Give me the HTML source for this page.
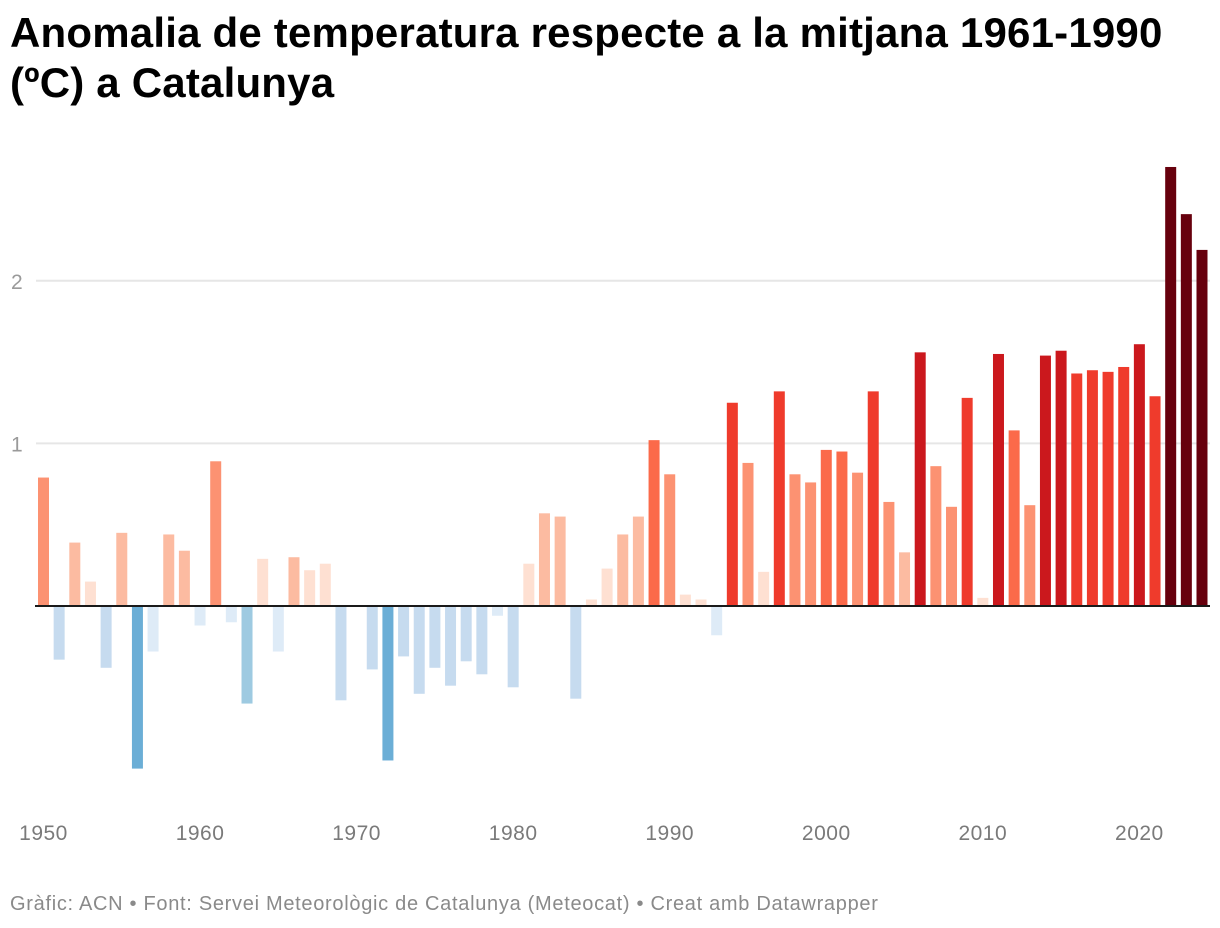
<!DOCTYPE html>
<html><head><meta charset="utf-8"><style>
body{margin:0;width:1220px;height:928px;background:#fff;font-family:"Liberation Sans",sans-serif;overflow:hidden}
h1{position:absolute;left:10px;top:8px;margin:0;font-size:42px;line-height:50px;font-weight:bold;color:#000;letter-spacing:0.2px}
#foot{position:absolute;left:10px;top:893px;font-size:20px;color:#8a8a8a;letter-spacing:0.7px}
svg{position:absolute;left:0;top:0}
</style></head><body>
<h1>Anomalia de temperatura respecte a la mitjana 1961-1990<br>(ºC) a Catalunya</h1>
<svg id="chart" width="1220" height="928"></svg>
<div id="foot">Gràfic: ACN • Font: Servei Meteorològic de Catalunya (Meteocat) • Creat amb Datawrapper</div>
<script>
const years=[];for(let y=1950;y<=2024;y++)years.push(y);
const values=[0.79,-0.33,0.39,0.15,-0.38,0.45,-1.0,-0.28,0.44,0.34,-0.12,0.89,-0.10,-0.60,0.29,-0.28,0.30,0.22,0.26,-0.58,0.0,-0.39,-0.95,-0.31,-0.54,-0.38,-0.49,-0.34,-0.42,-0.06,-0.50,0.26,0.57,0.55,-0.57,0.04,0.23,0.44,0.55,1.02,0.81,0.07,0.04,-0.18,1.25,0.88,0.21,1.32,0.81,0.76,0.96,0.95,0.82,1.32,0.64,0.33,1.56,0.86,0.61,1.28,0.05,1.55,1.08,0.62,1.54,1.57,1.43,1.45,1.44,1.47,1.61,1.29,2.70,2.41,2.19];
const yTicks=[1,2];
const xTicks=[1950,1960,1970,1980,1990,2000,2010,2020];
const NS="http://www.w3.org/2000/svg",svg=document.getElementById('chart');
const x=yr=>43.5+(yr-1950)*(1202-43.5)/74;
const y=v=>606-v*162.6;
function color(v){
 if(v>=2)return'#67000d';if(v>=1.5)return'#cb181d';if(v>=1.2)return'#ef3b2c';if(v>=0.9)return'#fb6a4a';
 if(v>=0.6)return'#fc9272';if(v>=0.3)return'#fcbba1';if(v>=0)return'#fee0d2';
 if(v>-0.3)return'#deebf7';if(v>-0.59)return'#c6dbef';if(v>-0.8)return'#9ecae1';return'#6baed6';}
function mk(t,a){const e=document.createElementNS(NS,t);for(const k in a)e.setAttribute(k,a[k]);svg.appendChild(e);return e;}
yTicks.forEach(t=>{
 const l=mk('line',{x1:36,x2:1210,y1:y(t),y2:y(t),stroke:'#e6e6e6','stroke-width':2});
 
 
 const tx=mk('text',{x:11,y:y(t)+8,'font-size':21,fill:'#9a9a9a'});tx.textContent=t;
 
 
});
values.forEach((v,i)=>{
 const r=mk('rect',{x:x(years[i])-5.5,y:Math.min(y(v),y(0)),width:11,height:Math.abs(y(v)-y(0)),fill:color(v)});
 
 
});
const z=mk('line',{x1:35,x2:1210,y1:y(0),y2:y(0),stroke:'#1a1a1a','stroke-width':2});


xTicks.forEach(t=>{
 const tx=mk('text',{x:x(t),y:840,'font-size':21,fill:'#7a7a7a','text-anchor':'middle','letter-spacing':'0.5'});tx.textContent=t;
 
 
});
</script>
</body></html>
